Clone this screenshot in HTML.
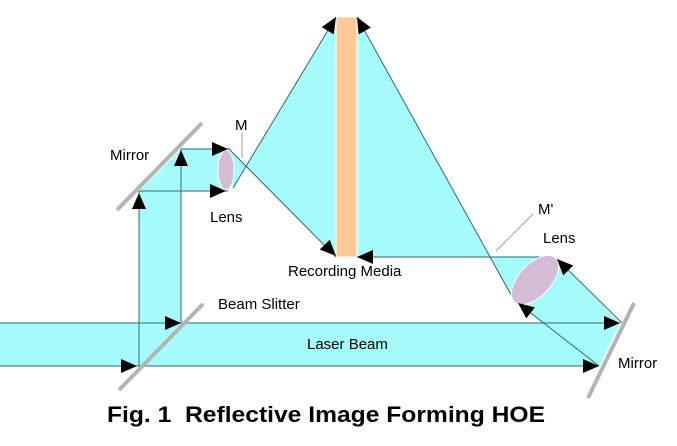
<!DOCTYPE html>
<html><head><meta charset="utf-8"><style>
html,body{margin:0;padding:0;background:#fff;}
svg{display:block;}
text{font-family:"Liberation Sans",Arial,sans-serif;fill:#000;}
</style></head><body>
<svg width="677" height="446" viewBox="0 0 677 446" xmlns="http://www.w3.org/2000/svg">
<g fill="#a6fcfc" stroke="none">
<polygon points="0,323 620,323 599,366 0,366"/>
<polygon points="139,323 139,191 181,149 228,149 228,191 181,191 181,323"/>
<polygon points="228,148 246,166 336,17 336,257 246,166 233,190"/>
<polygon points="357,17 515,302 599,366 620,323 555,257 357,257"/>
</g>
<rect x="336" y="17" width="21" height="240" fill="#fcc896" stroke="#fff" stroke-width="1"/>
<g stroke="#2f6a6a" stroke-width="1" fill="none">
<line x1="0" y1="323" x2="620" y2="323"/>
<line x1="0" y1="366" x2="599" y2="366"/>
<line x1="139" y1="366" x2="139" y2="191"/>
<line x1="181" y1="323" x2="181" y2="149"/>
<line x1="139" y1="191" x2="228" y2="191"/>
<line x1="181" y1="149" x2="228" y2="149"/>
<line x1="233" y1="188" x2="336" y2="17"/>
<line x1="228" y1="148" x2="336" y2="257"/>
<line x1="357" y1="17" x2="515" y2="302"/>
<line x1="357" y1="257" x2="553" y2="257"/>
<line x1="557" y1="259" x2="622" y2="323"/>
<line x1="518" y1="303" x2="599" y2="366"/>
</g>
<g stroke="#b4b4b4" stroke-width="4" stroke-linecap="butt">
<line x1="117" y1="210" x2="202" y2="123"/>
<line x1="119" y1="390" x2="203" y2="304"/>
<line x1="634" y1="303" x2="588" y2="398"/>
</g>
<g stroke="#b4b4b4" stroke-width="1.3">
<line x1="242" y1="133" x2="242" y2="158"/>
<line x1="533" y1="214" x2="496" y2="251"/>
</g>
<ellipse cx="226" cy="170" rx="8" ry="20" fill="#d4bcd4" stroke="#fff" stroke-width="1"/>
<ellipse cx="0" cy="0" rx="16" ry="30" transform="translate(535,280) rotate(43)" fill="#d4bcd4" stroke="#fff" stroke-width="1"/>
<g fill="#000">
<polygon points="0,0 -16,-7 -16,7" transform="translate(137,366)"/>
<polygon points="0,0 -16,-7 -16,7" transform="translate(181,323)"/>
<polygon points="0,0 -16,-7 -16,7" transform="translate(139,193) rotate(-90)"/>
<polygon points="0,0 -16,-7 -16,7" transform="translate(181,150) rotate(-90)"/>
<polygon points="0,0 -16,-7 -16,7" transform="translate(228,149)"/>
<polygon points="0,0 -16,-7 -16,7" transform="translate(226,191)"/>
<polygon points="0,0 -16,-7 -16,7" transform="translate(336,256) rotate(45.3)"/>
<polygon points="0,0 -16,-7 -16,7" transform="translate(357,257) rotate(180)"/>
<polygon points="0,0 -16,-7 -16,7" transform="translate(336,17) rotate(-58.9)"/>
<polygon points="0,0 -16,-7 -16,7" transform="translate(357,17) rotate(-119)"/>
<polygon points="0,0 -16,-7 -16,7" transform="translate(557,259) rotate(-134.5)"/>
<polygon points="0,0 -16,-7 -16,7" transform="translate(518,303) rotate(-142)"/>
<polygon points="0,0 -16,-7 -16,7" transform="translate(620,323)"/>
<polygon points="0,0 -16,-7 -16,7" transform="translate(599,366)"/>
</g>
<g font-size="15">
<text x="110" y="160">Mirror</text>
<text x="235" y="130">M</text>
<text x="210" y="222">Lens</text>
<text x="538" y="214">M'</text>
<text x="543" y="243">Lens</text>
<text x="288" y="276">Recording Media</text>
<text x="218" y="309">Beam Slitter</text>
<text x="307" y="349">Laser Beam</text>
<text x="618" y="368">Mirror</text>
</g>
<text x="107" y="422" font-size="22" font-weight="bold" textLength="438" lengthAdjust="spacingAndGlyphs" xml:space="preserve">Fig. 1  Reflective Image Forming HOE</text>
</svg>
</body></html>
